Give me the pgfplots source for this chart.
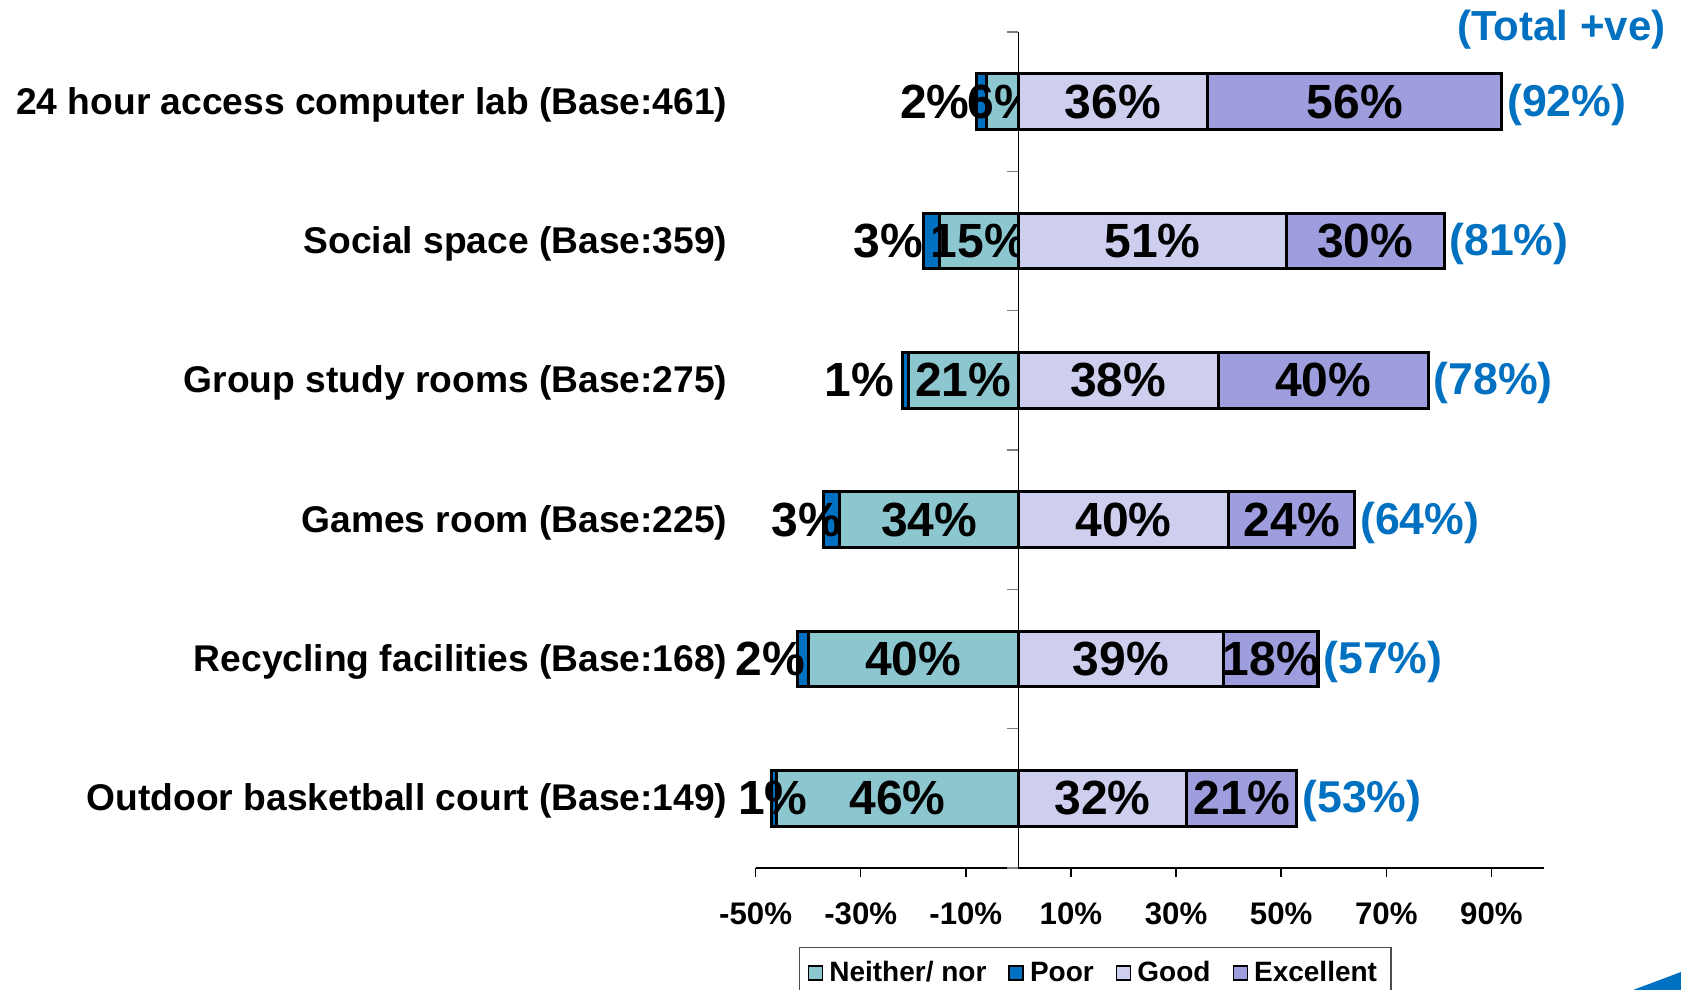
\documentclass[border=0pt]{standalone}
\usepackage{fontspec}
\setmainfont{Liberation Sans}
\usepackage{pgfplots}
\usepackage{pgfplotstable}
\pgfplotsset{compat=1.18}
\definecolor{neither}{RGB}{140,199,207}
\definecolor{poor}{RGB}{0,112,192}
\definecolor{good}{RGB}{206,206,238}
\definecolor{excellent}{RGB}{158,158,222}
\definecolor{totblue}{RGB}{0,112,192}

% y: category row (1 = top); poorlab: where the Poor label sits
\pgfplotstableread{
y neither poor good excellent total poorlab
1 6  2 36 56 92 -15.9
2 15 3 51 30 81 -24.7
3 21 1 38 40 78 -30.2
4 34 3 40 24 64 -40.4
5 40 2 39 18 57 -47.2
6 46 1 32 21 53 -46.7
}\datatable

\newcommand\barfont{\fontsize{24pt}{26pt}\selectfont\bfseries}
\newcommand\totfont{\fontsize{22.3pt}{24pt}\selectfont\bfseries}
\newcommand\hdrfont{\fontsize{21pt}{23pt}\selectfont\bfseries}
\newcommand\catfont{\fontsize{18.6pt}{20pt}\selectfont\bfseries}
\newcommand\tickfont{\fontsize{15.6pt}{17pt}\selectfont\bfseries}
\newcommand\legfont{\fontsize{14pt}{15pt}\selectfont\bfseries}

\begin{document}
\begin{tikzpicture}
\pgfplotsset{
  /pgf/number format/assume math mode=true,
  common/.style={
    scale only axis, width=394.2pt, height=418pt,
    at={(0,0)}, anchor=south west,
    ymin=0.5, ymax=6.5, y dir=reverse,
    clip=false,
  },
  barlabels/.style={
    nodes near coords={\pgfmathprintnumber{\rawx}\%},
    visualization depends on={\thisrow{#1} \as \rawx},
    nodes near coords align={center},
    every node near coord/.style={anchor=center, font=\barfont, text=black, inner sep=0pt},
  },
  segment/.style={draw=black, line width=1.5pt},
}
% negative side (reversed axis, values as positive shares)
\begin{axis}[common, hide axis, xmin=-100, xmax=50, x dir=reverse,
  xbar stacked, bar width=27.85pt]
\addplot[segment, fill=neither, barlabels=neither] table[x=neither,y=y]{\datatable};
\addplot[segment, fill=poor] table[x=poor,y=y]{\datatable};
\end{axis}
% positive side
\begin{axis}[common, hide axis, xmin=-50, xmax=100,
  xbar stacked, bar width=27.85pt]
\addplot[segment, fill=good, barlabels=good] table[x=good,y=y]{\datatable};
\addplot[segment, fill=excellent, barlabels=excellent] table[x=excellent,y=y]{\datatable};
\end{axis}
% frame, ticks, labels, legend
\begin{axis}[common, xmin=-50, xmax=100,
  axis x line*=bottom, axis y line*=left,
  x axis line style={-, black, line width=0.75pt},
  y axis line style={draw=none},
  major y tick style={draw=none},
  major x tick style={black, line width=0.75pt},
  tick align=outside, major tick length=4.5pt,
  xtick={-50,-30,-10,10,30,50,70,90},
  xticklabels={-50\%,-30\%,-10\%,10\%,30\%,50\%,70\%,90\%},
  xticklabel style={font=\tickfont, inner sep=0pt, yshift=-12.8pt},
  ytick={1,2,3,4,5,6},
  yticklabels={24 hour access computer lab (Base:461), Social space (Base:359), Group study rooms (Base:275), Games room (Base:225), Recycling facilities (Base:168), Outdoor basketball court (Base:149)},
  yticklabel style={font=\catfont, anchor=east, inner sep=0pt, xshift=-9.4pt, yshift=-1.5pt},
  legend style={at={(0.431,-0.0945)}, anchor=north, legend columns=4,
    draw=black!70, line width=0.6pt, font=\legfont, inner xsep=4pt, inner ysep=5pt,
    /tikz/every even column/.append style={column sep=8pt},
    nodes={inner xsep=3pt}},
  legend cell align=left,
  legend image code/.code={\draw[#1, draw=black, line width=0.8pt] (0pt,-3.5pt) rectangle (7pt,3.5pt);},
]
\addlegendimage{fill=neither}\addlegendentry{Neither/ nor}
\addlegendimage{fill=poor}\addlegendentry{Poor}
\addlegendimage{fill=good}\addlegendentry{Good}
\addlegendimage{fill=excellent}\addlegendentry{Excellent}
% Poor labels
\addplot[draw=none, mark=none, forget plot,
  point meta=\thisrow{poor},
  nodes near coords={\pgfmathprintnumber{\pgfplotspointmeta}\%},
  nodes near coords align={center},
  every node near coord/.style={anchor=center, font=\barfont, text=black, inner sep=0pt}]
  table[x=poorlab,y=y]{\datatable};
% Total +ve labels
\addplot[draw=none, mark=none, forget plot,
  point meta=\thisrow{total},
  nodes near coords={(\pgfmathprintnumber{\pgfplotspointmeta}\%)},
  nodes near coords align={horizontal},
  every node near coord/.style={font=\totfont, text=totblue, inner sep=0pt, anchor=west, xshift=2.5pt, yshift=-1.5pt}]
  table[x=total,y=y]{\datatable};
\node[anchor=east, font=\hdrfont, text=totblue, inner sep=0pt, yshift=-1.5pt] at (axis cs:123.2,0.464) {(Total +ve)};
\draw[black, line width=0.6pt] (axis cs:0,0.5) -- (axis cs:0,6.5);
\pgfplotsinvokeforeach{0.5,1.5,2.5,3.5,4.5,5.5,6.5}{
  \draw[gray, line width=0.8pt] (axis cs:0,#1) -- ++(-5.5pt,0pt);
}
\end{axis}
\fill[totblue] (438.7pt,-61pt) -- (462.7pt,-52pt) -- (462.7pt,-61pt) -- cycle;
\pgfresetboundingbox
\path[use as bounding box] (-377.8pt,-61pt) rectangle (462.7pt,434pt);
\end{tikzpicture}
\end{document}
